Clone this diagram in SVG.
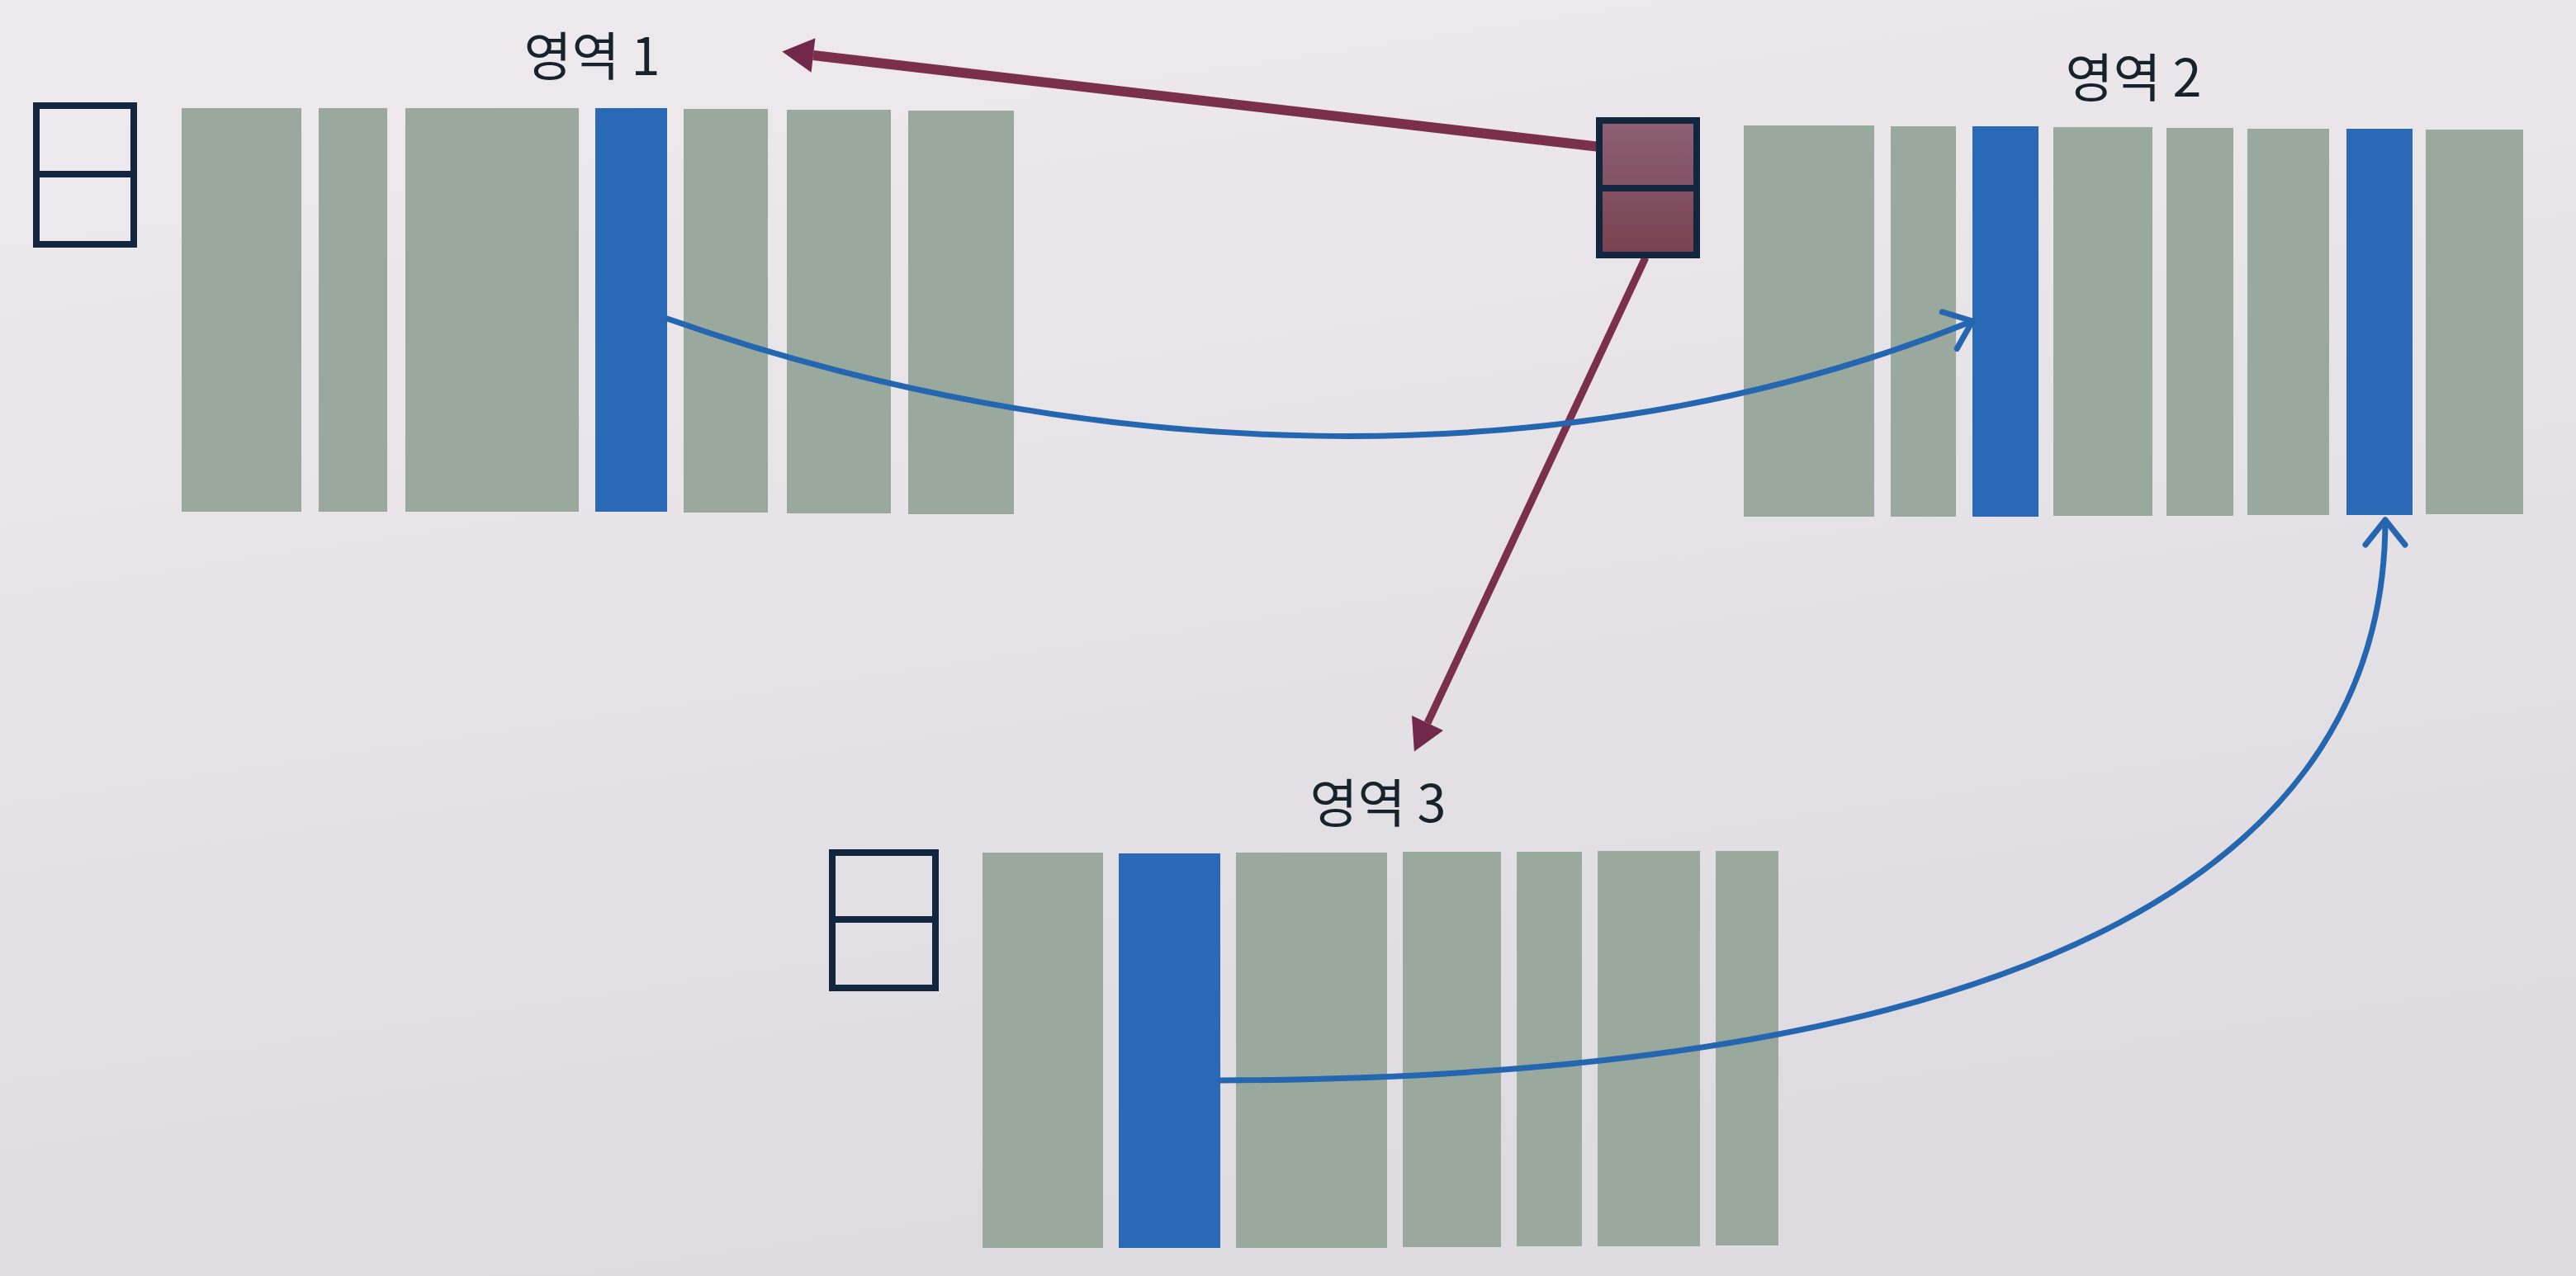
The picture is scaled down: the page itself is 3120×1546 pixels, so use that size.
<svg xmlns="http://www.w3.org/2000/svg" width="3120" height="1546" viewBox="0 0 3120 1546">
  <defs>
    <style>
      .g { fill: #9aa99e; }
      .b { fill: #2a69b6; }
      .mem { fill: none; stroke: #12263f; stroke-width: 8; }
      .lbl { font-family: "Noto Sans CJK KR", "Liberation Sans", sans-serif; font-size: 63px; fill: #17232c; text-anchor: middle; }
      .red { fill: none; stroke: #7a2f4b; }
      .blue { fill: none; stroke: #2466b0; stroke-width: 7; stroke-linecap: round; }
    </style>
    <linearGradient id="paper" x1="0" y1="0" x2="0.3" y2="1">
      <stop offset="0" stop-color="#eeeaee"/>
      <stop offset="1" stop-color="#dfdce1"/>
    </linearGradient>
    <linearGradient id="redfade" gradientUnits="userSpaceOnUse" x1="1936" y1="178" x2="983" y2="67">
      <stop offset="0" stop-color="#a07a90"/>
      <stop offset="0.35" stop-color="#8a4e68"/>
      <stop offset="1" stop-color="#72284a"/>
    </linearGradient>
    <linearGradient id="boxfill" x1="0" y1="0" x2="0" y2="1">
      <stop offset="0" stop-color="#8c6075"/>
      <stop offset="1" stop-color="#7a4250"/>
    </linearGradient>
    <marker id="redHead" markerUnits="userSpaceOnUse" markerWidth="44" markerHeight="46" refX="0" refY="0" viewBox="0 -23 44 46" orient="auto" overflow="visible">
      <path d="M0,-21 L38,0 L0,21 Z" fill="#72284a"/>
    </marker>
    <marker id="blueHead" markerUnits="userSpaceOnUse" markerWidth="40" markerHeight="54" refX="0" refY="0" viewBox="-36 -27 40 54" orient="auto" overflow="visible">
      <path d="M-30,-24 L0,0 L-30,24" fill="none" stroke="#2466b0" stroke-width="7" stroke-linecap="round" stroke-linejoin="round"/>
    </marker>
  </defs>

  <rect x="0" y="0" width="3120" height="1546" fill="url(#paper)"/>

  <g id="region1">
    <text class="lbl" x="717" y="91">영역 1</text>
    <g id="region1-frame">
      <rect class="mem" x="44" y="128" width="118" height="168"/>
      <line class="mem" x1="44" y1="211" x2="162" y2="211"/>
    </g>
    <rect class="g" x="220" y="131" width="145" height="489"/>
    <rect class="g" x="386" y="131" width="83" height="489"/>
    <rect class="g" x="491" y="131" width="210" height="489"/>
    <rect class="b" x="721" y="131" width="87" height="489"/>
    <rect class="g" x="828" y="132" width="102" height="489"/>
    <rect class="g" x="953" y="133" width="126" height="489"/>
    <rect class="g" x="1100" y="134" width="128" height="489"/>
  </g>

  <g id="region2">
    <text class="lbl" x="2584" y="117">영역 2</text>
    <rect class="g" x="2112" y="152" width="158" height="474"/>
    <rect class="g" x="2290" y="153" width="79" height="473"/>
    <rect class="b" x="2389" y="153" width="80" height="473"/>
    <rect class="g" x="2487" y="154" width="120" height="471"/>
    <rect class="g" x="2624" y="155" width="81" height="470"/>
    <rect class="g" x="2722" y="156" width="99" height="468"/>
    <rect class="b" x="2842" y="156" width="80" height="468"/>
    <rect class="g" x="2938" y="157" width="118" height="466"/>
  </g>

  <g id="region3">
    <text class="lbl" x="1669" y="996">영역 3</text>
    <g id="region3-frame">
      <rect class="mem" x="1008" y="1033" width="125" height="164"/>
      <line class="mem" x1="1008" y1="1114" x2="1133" y2="1114"/>
    </g>
    <rect class="g" x="1190" y="1033" width="146" height="479"/>
    <rect class="b" x="1355" y="1034" width="123" height="478"/>
    <rect class="g" x="1497" y="1033" width="183" height="479"/>
    <rect class="g" x="1699" y="1032" width="119" height="479"/>
    <rect class="g" x="1837" y="1032" width="79" height="478"/>
    <rect class="g" x="1935" y="1031" width="124" height="479"/>
    <rect class="g" x="2078" y="1031" width="76" height="478"/>
  </g>

  <g id="connectors">
    <line class="red" x1="1938" y1="178" x2="985" y2="67" stroke="url(#redfade)" stroke-width="12" marker-end="url(#redHead)"/>
    <line class="red" x1="1993" y1="312" x2="1729" y2="876" stroke-width="9" marker-end="url(#redHead)"/>
    <path class="blue" d="M808,386 C1300,560 1891,590 2389,389" marker-end="url(#blueHead)"/>
    <path class="blue" d="M1478,1309 C2500,1305 2889,1030 2889,630" marker-end="url(#blueHead)"/>
  </g>

  <g id="pointer">
    <rect x="1937" y="146" width="118" height="163" fill="url(#boxfill)" stroke="#12263f" stroke-width="8"/>
    <line x1="1937" y1="228" x2="2055" y2="228" stroke="#12263f" stroke-width="8"/>
  </g>
</svg>
